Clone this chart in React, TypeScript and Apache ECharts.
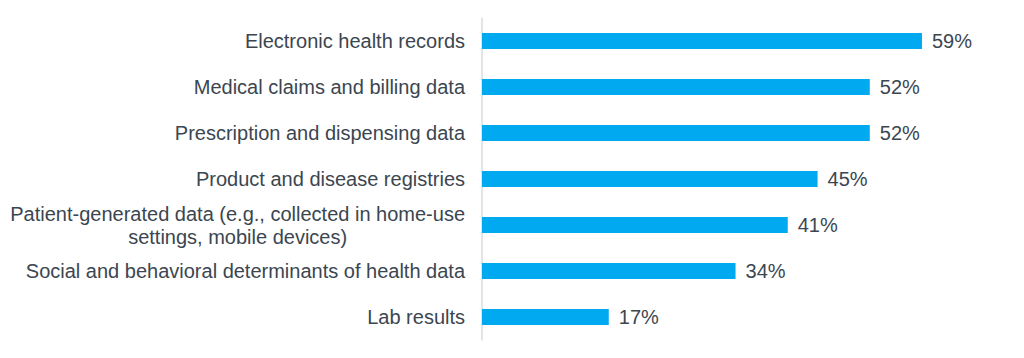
import React, { useEffect, useRef } from "react";
import * as echarts from "echarts";

const categories = [
  "Electronic health records",
  "Medical claims and billing data",
  "Prescription and dispensing data",
  "Product and disease registries",
  "Patient-generated data (e.g., collected in home-use\nsettings, mobile devices)",
  "Social and behavioral determinants of health data",
  "Lab results",
];
const values = [59, 52, 52, 45, 41, 34, 17];

const FONT = "Liberation Sans, Arial, sans-serif";
const TEXT = "#3b4650";

export default function App() {
  const ref = useRef<HTMLDivElement>(null);
  useEffect(() => {
    const chart = echarts.init(ref.current!, null, { renderer: "svg" });
    chart.setOption({
      animation: false,
      grid: { left: 482, right: 20, top: 18, bottom: 18, containLabel: false },
      xAxis: {
        type: "value",
        min: 0,
        max: 70,
        show: false,
      },
      yAxis: {
        type: "category",
        inverse: true,
        data: categories,
        axisLine: { show: true, lineStyle: { color: "#d9dde1", width: 1.5 } },
        axisTick: { show: false },
        splitLine: { show: false },
        axisLabel: {
          margin: 17,
          fontSize: 20,
          color: TEXT,
          fontFamily: FONT,
          lineHeight: 23,
          formatter: (v: string) => `{c|${v}}`,
          rich: {
            c: {
              align: "center",
              fontSize: 20,
              lineHeight: 23,
              color: TEXT,
              fontFamily: FONT,
            },
          },
        },
      },
      series: [
        {
          type: "bar",
          data: values,
          barWidth: 16,
          itemStyle: { color: "#00a9f0" },
          label: {
            show: true,
            position: "right",
            distance: 10,
            formatter: "{c}%",
            fontSize: 20,
            color: TEXT,
            fontFamily: FONT,
          },
        },
      ],
    });
    return () => chart.dispose();
  }, []);
  return (
    <div
      ref={ref}
      style={{ width: 1024, height: 358, marginTop: -8, marginLeft: -8 }}
    />
  );
}
